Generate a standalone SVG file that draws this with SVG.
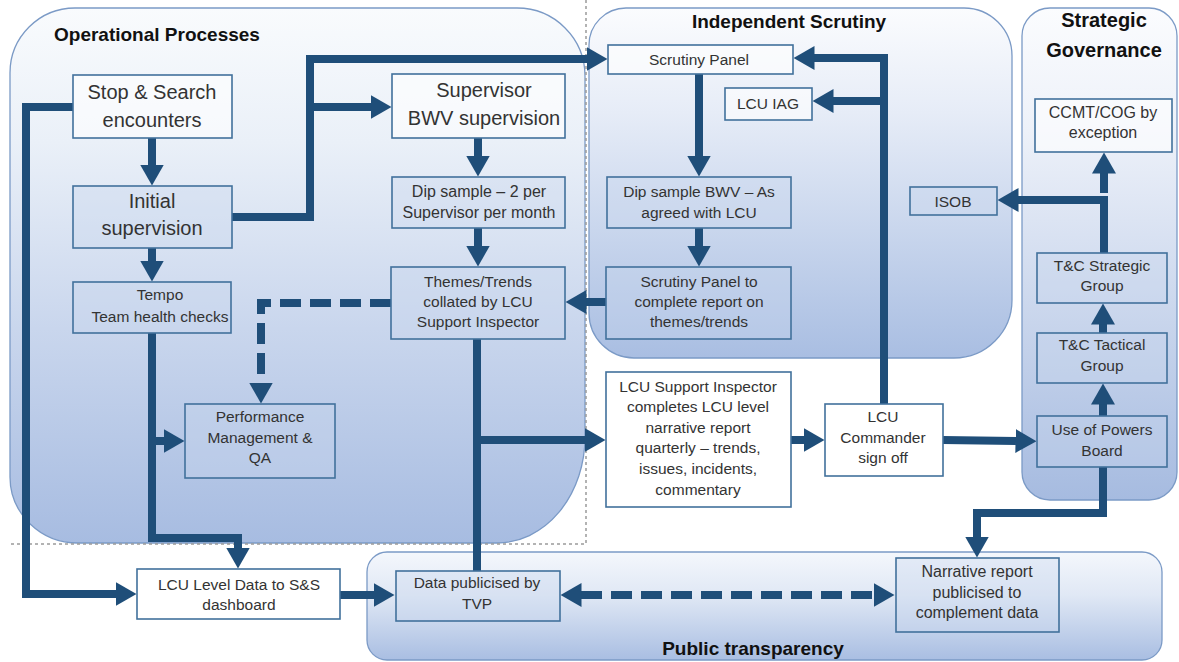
<svg xmlns="http://www.w3.org/2000/svg" width="1179" height="662" viewBox="0 0 1179 662">
  <defs>
    <linearGradient id="gOp" x1="0" y1="0" x2="0" y2="1">
      <stop offset="0" stop-color="#f9fbfd"/>
      <stop offset="0.25" stop-color="#eaf0f8"/>
      <stop offset="0.6" stop-color="#c9d6ed"/>
      <stop offset="1" stop-color="#a7bce1"/>
    </linearGradient>
    <linearGradient id="gScr" x1="0" y1="0" x2="0" y2="1">
      <stop offset="0" stop-color="#fbfcfe"/>
      <stop offset="0.3" stop-color="#e6ecf7"/>
      <stop offset="1" stop-color="#a9bee2"/>
    </linearGradient>
    <linearGradient id="gStrat" x1="0" y1="0" x2="0" y2="1">
      <stop offset="0" stop-color="#fbfcfe"/>
      <stop offset="0.25" stop-color="#edf1f9"/>
      <stop offset="1" stop-color="#a6bbe0"/>
    </linearGradient>
    <linearGradient id="gPub" x1="0" y1="0" x2="0" y2="1">
      <stop offset="0" stop-color="#f4f7fc"/>
      <stop offset="0.4" stop-color="#e0e8f5"/>
      <stop offset="1" stop-color="#a9bee2"/>
    </linearGradient>
    <marker id="ah" viewBox="0 0 21 24" markerWidth="21" markerHeight="24" refX="0.5" refY="12" orient="auto-start-reverse" markerUnits="userSpaceOnUse">
      <path d="M0,0 L21,12 L0,24 Z" fill="#1f4e79"/>
    </marker>
    <style>
      .region { stroke:#7b9ac6; stroke-width:1.3; }
      .guide { fill:none; stroke:#9a9a9a; stroke-width:1.5; stroke-dasharray:3 3; }
      .box { fill:#c9d7ef; fill-opacity:0.35; stroke:#41719c; stroke-width:1.6; }
      .wbox { fill:#ffffff; stroke:#41719c; stroke-width:1.6; }
      .lbox { fill:#ffffff; fill-opacity:0.6; stroke:#41719c; stroke-width:1.6; }
      text { font-family:"Liberation Sans", Arial, sans-serif; fill:#333333; text-anchor:middle; }
      .big { font-size:20px; }
      .sm { font-size:15.5px; }
      .md { font-size:16px; }
      .ttl { font-size:19px; font-weight:bold; fill:#111111; }
      .ttl2 { font-size:20px; font-weight:bold; fill:#111111; }
      .conn { fill:none; stroke:#1f4e79; stroke-width:8; stroke-linejoin:miter; }
      .arr { marker-end:url(#ah); }
      .dash { stroke-dasharray:21 9; }
    </style>
  </defs>

  <!-- swimlane regions -->
  <g id="regions">
    <path id="region-operational" class="region" fill="url(#gOp)" d="M75,8 H517 A68,68 0 0 1 585,76 V437 A88,106 0 0 1 497,543 H78 A68,66 0 0 1 10,477 V73 A65,65 0 0 1 75,8 Z"/>
    <path id="region-scrutiny" class="region" fill="url(#gScr)" d="M626,8 H964 A48,48 0 0 1 1012,56 V300 A58,58 0 0 1 954,358 H634 A45,45 0 0 1 589,313 V45 A37,37 0 0 1 626,8 Z"/>
    <rect id="region-strategic" class="region" fill="url(#gStrat)" x="1022" y="8" width="155" height="492" rx="28" ry="28"/>
    <rect id="region-public" class="region" fill="url(#gPub)" x="367" y="552" width="795" height="108" rx="20" ry="20"/>
    <path class="guide" d="M586,0 V544 H10"/>
    <text class="ttl" x="54" y="41" style="text-anchor:start">Operational Processes</text>
    <text class="ttl" x="789" y="28">Independent Scrutiny</text>
    <text class="ttl2" x="1104" y="27">Strategic</text>
    <text class="ttl2" x="1104" y="57">Governance</text>
    <text class="ttl" x="753" y="655">Public transparency</text>
  </g>

  <!-- connectors -->
  <g id="connectors">
    <path class="conn arr" d="M152,138 V165"/>
    <path class="conn arr" d="M73,107 H26 V594 H116"/>
    <path class="conn arr" d="M232,217 H310 V59 H587"/>
    <path class="conn arr" d="M310,107 H371"/>
    <path class="conn arr" d="M152,248 V261"/>
    <path class="conn arr" d="M152,333 V538 H238 V548"/>
    <path class="conn arr" d="M152,441 H164"/>
    <path class="conn arr" d="M478,138 V156"/>
    <path class="conn arr" d="M478,228 V246"/>
    <path class="conn arr dash" d="M391,303 H261 V383"/>
    <path class="conn arr" d="M699,74 V156"/>
    <path class="conn arr" d="M699,228 V246"/>
    <path class="conn arr" d="M606,302 H586"/>
    <path class="conn" d="M477,339 V571"/>
    <path class="conn arr" d="M477,440 H585"/>
    <path class="conn arr" d="M791,440 H804"/>
    <path class="conn arr" d="M884,404 V58 H814"/>
    <path class="conn arr" d="M884,101 H833"/>
    <path class="conn arr" d="M943,440 L1016,441"/>
    <path class="conn arr" d="M1103,416 V404"/>
    <path class="conn arr" d="M1103,333 V324"/>
    <path class="conn arr" d="M1104,253 V200 H1018"/>
    <path class="conn arr" d="M1104,193 V173"/>
    <path class="conn arr" d="M1103,467 V513 H977 V537"/>
    <path class="conn arr" d="M340,595 H374"/>
    <path class="conn arr dash" style="marker-start:url(#ah)" d="M581,595 H874"/>
  </g>

  <!-- operational processes -->
  <g id="stop-search">
    <rect class="lbox" x="73" y="75" width="159" height="63"/>
    <text class="big" x="152" y="99">Stop &amp; Search</text>
    <text class="big" x="152" y="127">encounters</text>
  </g>
  <g id="initial-supervision">
    <rect class="box" x="73" y="186" width="159" height="62"/>
    <text class="big" x="152" y="208">Initial</text>
    <text class="big" x="152" y="235">supervision</text>
  </g>
  <g id="tempo">
    <rect class="box" x="73" y="282" width="158" height="51"/>
    <text class="sm" x="160" y="300">Tempo</text>
    <text class="sm" x="160" y="322">Team health checks</text>
  </g>
  <g id="performance">
    <rect class="box" x="185" y="404" width="150" height="74"/>
    <text class="sm" x="260" y="422">Performance</text>
    <text class="sm" x="260" y="443">Management &amp;</text>
    <text class="sm" x="260" y="463">QA</text>
  </g>
  <g id="supervisor-bwv">
    <rect class="lbox" x="392" y="74" width="173" height="64"/>
    <text class="big" x="484" y="97">Supervisor</text>
    <text class="big" x="484" y="125">BWV supervision</text>
  </g>
  <g id="dip-sample">
    <rect class="box" x="392" y="177" width="173" height="51"/>
    <text class="md" x="479" y="197">Dip sample – 2 per</text>
    <text class="md" x="479" y="218">Supervisor per month</text>
  </g>
  <g id="themes-trends">
    <rect class="box" x="391" y="267" width="174" height="72"/>
    <text class="sm" x="478" y="287">Themes/Trends</text>
    <text class="sm" x="478" y="307">collated by LCU</text>
    <text class="sm" x="478" y="327">Support Inspector</text>
  </g>

  <!-- independent scrutiny -->
  <g id="scrutiny-panel">
    <rect class="lbox" x="608" y="45" width="185" height="29"/>
    <text class="sm" x="699" y="65">Scrutiny Panel</text>
  </g>
  <g id="lcu-iag">
    <rect class="lbox" x="725" y="88" width="87" height="32"/>
    <text class="sm" x="768" y="109">LCU IAG</text>
  </g>
  <g id="dip-sample-bwv">
    <rect class="box" x="607" y="177" width="184" height="51"/>
    <text class="sm" x="699" y="197">Dip sample BWV – As</text>
    <text class="sm" x="699" y="218">agreed with LCU</text>
  </g>
  <g id="scrutiny-report">
    <rect class="box" x="606" y="267" width="185" height="72"/>
    <text class="sm" x="699" y="287">Scrutiny Panel to</text>
    <text class="sm" x="699" y="307">complete report on</text>
    <text class="sm" x="699" y="327">themes/trends</text>
  </g>
  <g id="isob">
    <rect class="box" x="910" y="187" width="87" height="28"/>
    <text class="sm" x="953" y="207">ISOB</text>
  </g>

  <!-- reporting chain -->
  <g id="lcu-narrative">
    <rect class="wbox" x="606" y="372" width="185" height="135"/>
    <text class="sm" x="698" y="392">LCU Support Inspector</text>
    <text class="sm" x="698" y="412">completes LCU level</text>
    <text class="sm" x="698" y="433">narrative report</text>
    <text class="sm" x="698" y="453">quarterly – trends,</text>
    <text class="sm" x="698" y="474">issues, incidents,</text>
    <text class="sm" x="698" y="495">commentary</text>
  </g>
  <g id="lcu-commander">
    <rect class="wbox" x="825" y="404" width="118" height="72"/>
    <text class="sm" x="883" y="422">LCU</text>
    <text class="sm" x="883" y="443">Commander</text>
    <text class="sm" x="883" y="463">sign off</text>
  </g>

  <!-- strategic governance -->
  <g id="ccmt-cog">
    <rect class="lbox" x="1035" y="99" width="137" height="53"/>
    <text class="md" x="1103" y="118">CCMT/COG by</text>
    <text class="md" x="1103" y="138">exception</text>
  </g>
  <g id="tc-strategic">
    <rect class="box" x="1037" y="253" width="130" height="50"/>
    <text class="sm" x="1102" y="271">T&amp;C Strategic</text>
    <text class="sm" x="1102" y="291">Group</text>
  </g>
  <g id="tc-tactical">
    <rect class="box" x="1037" y="333" width="130" height="50"/>
    <text class="sm" x="1102" y="350">T&amp;C Tactical</text>
    <text class="sm" x="1102" y="371">Group</text>
  </g>
  <g id="use-of-powers">
    <rect class="box" x="1037" y="416" width="130" height="51"/>
    <text class="sm" x="1102" y="435">Use of Powers</text>
    <text class="sm" x="1102" y="456">Board</text>
  </g>

  <!-- public transparency -->
  <g id="lcu-data">
    <rect class="wbox" x="137" y="569" width="203" height="50"/>
    <text class="sm" x="239" y="590">LCU Level Data to S&amp;S</text>
    <text class="sm" x="239" y="610">dashboard</text>
  </g>
  <g id="data-publicised">
    <rect class="box" x="396" y="571" width="164" height="50"/>
    <text class="sm" x="477" y="588">Data publicised by</text>
    <text class="sm" x="477" y="609">TVP</text>
  </g>
  <g id="narrative-publicised">
    <rect class="box" x="896" y="558" width="163" height="74"/>
    <text class="md" x="977" y="577">Narrative report</text>
    <text class="md" x="977" y="598">publicised to</text>
    <text class="md" x="977" y="618">complement data</text>
  </g>
</svg>
